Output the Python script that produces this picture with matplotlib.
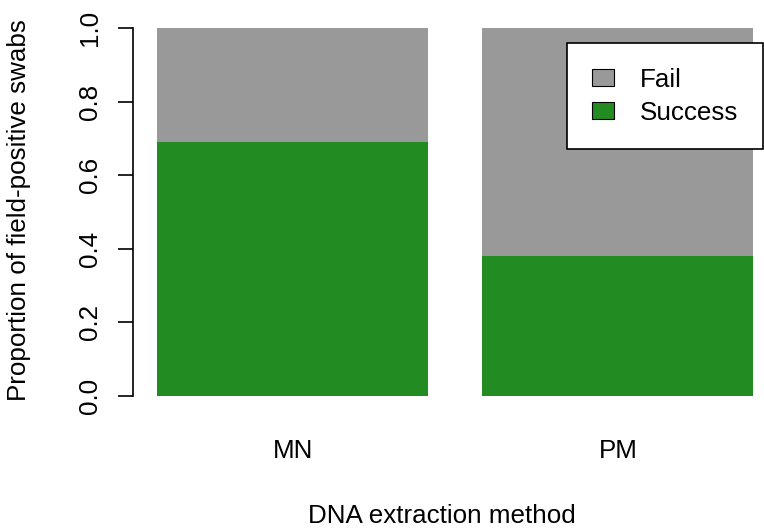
import matplotlib.pyplot as plt
import numpy as np

plt.rcParams['font.family'] = ['Liberation Sans', 'DejaVu Sans']

methods = ["MN", "PM"]
success = [0.69, 0.38]
fail = [0.31, 0.62]
yticks = [0.0, 0.2, 0.4, 0.6, 0.8, 1.0]

fs = 18.7
fig = plt.figure(figsize=(7.64, 5.30), dpi=100)
# px geometry of the R plot region
W, H = 764, 530
left, right, top, bottom = 133, 764, 28, 396
ax = fig.add_axes([left / W, 1 - bottom / H, (right - left) / W, (bottom - top) / H])

x = np.array([0.7, 1.9])
ax.bar(x, success, width=1.0, color="#228B22", label="Success")
ax.bar(x, fail, width=1.0, bottom=success, color="#999999", label="Fail")

ax.set_xlim((133 - 103) / 271, (764 - 103) / 271)
ax.set_ylim(0, 1)

for s in ["top", "right", "bottom"]:
    ax.spines[s].set_visible(False)
ax.spines["left"].set_linewidth(1.2)

ax.set_yticks(yticks)
ax.set_yticklabels(["%.1f" % v for v in yticks], rotation=90, va="center", fontsize=fs)
ax.tick_params(axis="y", length=11, width=1.2, pad=11)
ax.set_xticks(x)
ax.set_xticklabels(methods, fontsize=fs)
ax.tick_params(axis="x", length=0, pad=31)

ax.set_ylabel("Proportion of field-positive swabs", fontsize=fs)
ax.yaxis.set_label_coords((19 - left) / (right - left), (bottom - 210) / (bottom - top))
ax.yaxis.label.set_va("center")
ax.set_xlabel("DNA extraction method", fontsize=fs)
ax.xaxis.set_label_coords((442 - left) / (right - left), (bottom - 516) / (bottom - top))
ax.xaxis.label.set_va("center")

h, l = ax.get_legend_handles_labels()
leg = ax.legend(h[::-1], l[::-1], loc="upper left", bbox_to_anchor=(567 / W, 1 - 43 / H),
                bbox_transform=fig.transFigure, fontsize=fs, frameon=True, fancybox=False,
                handlelength=0.85, handleheight=0.6, borderpad=0.95, labelspacing=0.34,
                handletextpad=1.0, borderaxespad=0, framealpha=1)
leg.get_frame().set_edgecolor("black")
leg.get_frame().set_linewidth(1.2)
for p in leg.get_patches():
    p.set_edgecolor("black")
    p.set_linewidth(0.8)

fig.savefig("out.png", dpi=100)
